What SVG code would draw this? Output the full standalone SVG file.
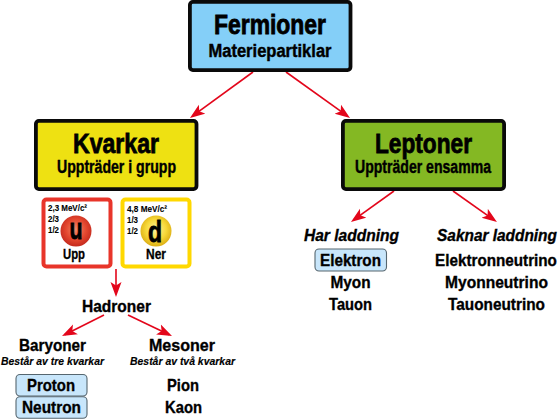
<svg xmlns="http://www.w3.org/2000/svg" width="559" height="419" viewBox="0 0 559 419">
<style>
text{font-family:"Liberation Sans",Arial,sans-serif;font-weight:700;fill:#000;text-anchor:middle;stroke:#000;stroke-width:.3}
.box{stroke:#0a0a0a;stroke-width:3.8}
.t1{font-size:27.500px;stroke-width:.8}
.t2{font-size:17.500px;stroke-width:.4}
.t3{font-size:17px;stroke-width:.35}
.i{font-style:italic}
.s{font-size:11px;stroke-width:.15}
.m{font-size:9px;text-anchor:start;stroke-width:.1}
.pill{fill:#c8e6fb;stroke:#56666f;stroke-width:1.1}
.c{fill:none;stroke:#e3061b;stroke-width:1.6}
</style>
<defs>
<marker id="a" markerUnits="userSpaceOnUse" markerWidth="18" markerHeight="14" refX="12" refY="6" orient="auto">
<path d="M0 0.500L15 6L0 11.500L3.500 6Z" fill="#e3061b"/>
</marker>
<radialGradient id="ru" cx="0.5" cy="0.45" r="0.55"><stop offset="0" stop-color="#ef8a6a"/><stop offset="0.6" stop-color="#e4472f"/><stop offset="1" stop-color="#c42a1e"/></radialGradient>
<radialGradient id="yd" cx="0.5" cy="0.45" r="0.55"><stop offset="0" stop-color="#fdf3a0"/><stop offset="0.6" stop-color="#f7d838"/><stop offset="1" stop-color="#dcae14"/></radialGradient>
</defs>
<g id="connectors">
<path class="c" marker-end="url(#a)" d="M253 72L192.400 116.200"/>
<path class="c" marker-end="url(#a)" d="M286 72L347.600 116.200"/>
<path class="c" marker-end="url(#a)" d="M116 269L116 294"/>
<path class="c" marker-end="url(#a)" d="M104 315L64.700 334.700"/>
<path class="c" marker-end="url(#a)" d="M128 315L169.300 334.700"/>
<path class="c" marker-end="url(#a)" d="M394 191L353.400 220.200"/>
<path class="c" marker-end="url(#a)" d="M453 191L494.500 220.300"/>
</g>
<g id="fermioner">
<rect class="box" x="189.900" y="1.900" width="160.600" height="68.200" rx="3" fill="#84cff8"/>
<text class="t1" x="270" y="34" textLength="112" lengthAdjust="spacingAndGlyphs">Fermioner</text>
<text class="t2" x="270" y="57" textLength="123" lengthAdjust="spacingAndGlyphs">Materiepartiklar</text>
</g>
<g id="kvarkar">
<rect class="box" x="35.900" y="120.900" width="160.600" height="68.200" rx="3" fill="#eee112"/>
<text class="t1" x="116" y="153" textLength="86" lengthAdjust="spacingAndGlyphs">Kvarkar</text>
<text class="t2" x="116.500" y="173" textLength="119" lengthAdjust="spacingAndGlyphs">Uppträder i grupp</text>
</g>
<g id="leptoner">
<rect class="box" x="342.900" y="120.900" width="161.200" height="68.200" rx="3" fill="#84b823"/>
<text class="t1" x="423.500" y="153" textLength="97" lengthAdjust="spacingAndGlyphs">Leptoner</text>
<text class="t2" x="423" y="173" textLength="136" lengthAdjust="spacingAndGlyphs">Uppträder ensamma</text>
</g>
<g id="upp">
<rect x="43.500" y="199.500" width="67" height="67" rx="3" fill="#fff" stroke="#e8352a" stroke-width="4"/>
<circle cx="76" cy="231" r="15.500" fill="url(#ru)"/>
<text class="m" x="48" y="211" textLength="39" lengthAdjust="spacingAndGlyphs">2,3 MeV/c²</text>
<text class="m" x="48" y="222" textLength="11" lengthAdjust="spacingAndGlyphs">2/3</text>
<text class="m" x="48" y="233" textLength="11" lengthAdjust="spacingAndGlyphs">1/2</text>
<text x="76" y="239" font-size="30" textLength="13" lengthAdjust="spacingAndGlyphs" style="stroke-width:.8">u</text>
<text x="74" y="259" font-size="14" textLength="22" lengthAdjust="spacingAndGlyphs">Upp</text>
</g>
<g id="ner">
<rect x="122.500" y="199.500" width="67" height="67" rx="3" fill="#fff" stroke="#ffd800" stroke-width="4"/>
<circle cx="156" cy="231" r="15.500" fill="url(#yd)"/>
<text class="m" x="127" y="212" textLength="40" lengthAdjust="spacingAndGlyphs">4,8 MeV/c²</text>
<text class="m" x="127" y="223" textLength="11" lengthAdjust="spacingAndGlyphs">1/3</text>
<text class="m" x="127" y="234" textLength="11" lengthAdjust="spacingAndGlyphs">1/2</text>
<text x="155" y="241.500" font-size="30" textLength="14" lengthAdjust="spacingAndGlyphs" style="stroke-width:.8">d</text>
<text x="156" y="259" font-size="14" textLength="20" lengthAdjust="spacingAndGlyphs">Ner</text>
</g>
<g id="hadroner"><text class="t3" x="116.500" y="312" textLength="69" lengthAdjust="spacingAndGlyphs">Hadroner</text></g>
<g id="baryoner">
<text class="t3" x="52.500" y="351" textLength="67" lengthAdjust="spacingAndGlyphs">Baryoner</text>
<text class="s i" x="52.500" y="365" textLength="103" lengthAdjust="spacingAndGlyphs">Består av tre kvarkar</text>
</g>
<g id="mesoner">
<text class="t3" x="182" y="351" textLength="66" lengthAdjust="spacingAndGlyphs">Mesoner</text>
<text class="s i" x="182.500" y="365" textLength="105" lengthAdjust="spacingAndGlyphs">Består av två kvarkar</text>
</g>
<g id="proton">
<rect class="pill" x="16" y="374.500" width="71" height="21.500" rx="4"/>
<text class="t3" x="51" y="391" textLength="48" lengthAdjust="spacingAndGlyphs">Proton</text>
</g>
<g id="neutron">
<rect class="pill" x="16" y="396.800" width="71" height="21.500" rx="4"/>
<text class="t3" x="51.500" y="413" textLength="59" lengthAdjust="spacingAndGlyphs">Neutron</text>
</g>
<g id="pion"><text class="t3" x="183" y="391" textLength="32" lengthAdjust="spacingAndGlyphs">Pion</text></g>
<g id="kaon"><text class="t3" x="183.500" y="413" textLength="37" lengthAdjust="spacingAndGlyphs">Kaon</text></g>
<g id="har-laddning"><text class="t3 i" x="351.500" y="241" textLength="95" lengthAdjust="spacingAndGlyphs">Har laddning</text></g>
<g id="saknar-laddning"><text class="t3 i" transform="translate(497 241) scale(.907 1)">Saknar laddning</text></g>
<g id="elektron">
<rect class="pill" x="315" y="249" width="71.500" height="22" rx="4"/>
<text class="t3" x="350.500" y="266" textLength="61" lengthAdjust="spacingAndGlyphs">Elektron</text>
</g>
<g id="myon"><text class="t3" x="350.500" y="288" textLength="40" lengthAdjust="spacingAndGlyphs">Myon</text></g>
<g id="tauon"><text class="t3" x="350.500" y="310" textLength="43" lengthAdjust="spacingAndGlyphs">Tauon</text></g>
<g id="elektronneutrino"><text class="t3" transform="translate(496 266) scale(.897 1)">Elektronneutrino</text></g>
<g id="myonneutrino"><text class="t3" x="496.500" y="288" textLength="103" lengthAdjust="spacingAndGlyphs">Myonneutrino</text></g>
<g id="tauoneutrino"><text class="t3" x="496.500" y="310" textLength="97" lengthAdjust="spacingAndGlyphs">Tauoneutrino</text></g>
</svg>
